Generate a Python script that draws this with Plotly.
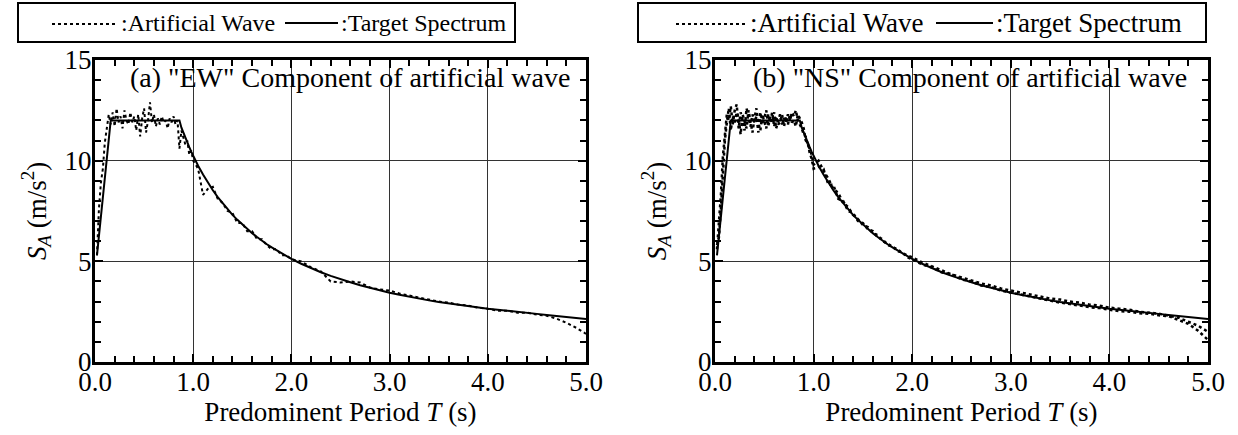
import plotly.graph_objects as go

W, H = 1238, 435

# ---------------- data ----------------
period = [0.02, 0.04, 0.06, 0.08, 0.10, 0.12, 0.14, 0.16, 0.18, 0.20,
          0.22, 0.24, 0.26, 0.28, 0.30, 0.32, 0.34, 0.36, 0.38, 0.40,
          0.42, 0.44, 0.46, 0.48, 0.50, 0.52, 0.54, 0.56, 0.58, 0.60,
          0.62, 0.64, 0.66, 0.68, 0.70, 0.72, 0.74, 0.76, 0.78, 0.80,
          0.82, 0.84, 0.86, 0.88, 0.90, 0.92, 0.94, 0.96, 0.98, 1.00,
          1.05, 1.10, 1.15, 1.20, 1.25, 1.30, 1.35, 1.40, 1.45, 1.50,
          1.55, 1.60, 1.65, 1.70, 1.75, 1.80, 1.85, 1.90, 1.95, 2.00,
          2.1, 2.2, 2.3, 2.4, 2.5, 2.6, 2.7, 2.8, 2.9, 3.0,
          3.1, 3.2, 3.3, 3.4, 3.5, 3.6, 3.7, 3.8, 3.9, 4.0,
          4.1, 4.2, 4.3, 4.4, 4.5, 4.6, 4.7, 4.8, 4.9, 5.0]

target = [5.3, 6.3, 7.2, 8.2, 9.1, 10.1, 11.0, 12.0, 12.0, 12.0,
          12.0, 12.0, 12.0, 12.0, 12.0, 12.0, 12.0, 12.0, 12.0, 12.0,
          12.0, 12.0, 12.0, 12.0, 12.0, 12.0, 12.0, 12.0, 12.0, 12.0,
          12.0, 12.0, 12.0, 12.0, 12.0, 12.0, 12.0, 12.0, 12.0, 12.0,
          12.0, 12.0, 12.0, 11.64, 11.38, 11.13, 10.89, 10.67, 10.45, 10.24,
          9.75, 9.31, 8.90, 8.53, 8.19, 7.88, 7.59, 7.31, 7.06, 6.83,
          6.61, 6.40, 6.21, 6.02, 5.85, 5.69, 5.54, 5.39, 5.25, 5.12,
          4.88, 4.66, 4.46, 4.28, 4.11, 3.96, 3.81, 3.68, 3.56, 3.44,
          3.34, 3.24, 3.15, 3.06, 2.98, 2.91, 2.84, 2.77, 2.71, 2.65,
          2.60, 2.54, 2.49, 2.44, 2.39, 2.34, 2.29, 2.24, 2.19, 2.14]

ew_wave = [5.3, 7.6, 8.9, 9.6, 10.9, 11.6, 12.3, 11.8, 12.4, 11.7,
           12.6, 11.9, 12.2, 11.6, 12.5, 12.0, 11.8, 12.4, 11.9, 12.2,
           11.5, 12.3, 11.2, 12.1, 12.6, 11.4, 12.0, 12.9, 11.9, 12.3,
           11.7, 12.1, 11.8, 12.2, 11.9, 12.0, 11.6, 12.1, 11.9, 12.2,
           11.8, 12.0, 10.6, 11.5, 11.1, 10.8, 11.0, 10.3, 10.5, 10.0,
           9.6, 8.3, 8.6, 8.7, 8.1, 7.9, 7.5, 7.4, 6.9, 6.9,
           6.5, 6.5, 6.1, 6.1, 5.8, 5.6, 5.6, 5.3, 5.3, 5.1,
           5.0, 4.7, 4.5, 4.0, 3.95, 4.0, 3.95, 3.7, 3.6, 3.55,
           3.4, 3.3, 3.2, 3.1, 3.0, 2.95, 2.85, 2.8, 2.7, 2.65,
           2.55, 2.55, 2.45, 2.45, 2.35, 2.3, 2.15, 1.95, 1.7, 1.4]

ns_wave_1 = [5.6, 6.8, 8.3, 10.2, 11.4, 12.3, 12.0, 12.7, 11.8, 12.5,
             12.8, 11.6, 12.4, 12.0, 11.5, 12.6, 12.1, 11.7, 12.3, 11.9,
             12.2, 11.4, 12.4, 11.8, 12.1, 12.5, 11.7, 12.2, 11.9, 12.4,
             11.6, 12.0, 12.3, 11.8, 12.1, 11.9, 12.3, 12.0, 12.4, 12.2,
             12.5, 12.0, 11.8, 11.6, 11.3, 11.2, 10.8, 10.6, 10.3, 9.8,
             10.0, 9.5, 9.1, 8.6, 8.4, 7.9, 7.7, 7.3, 7.1, 6.8,
             6.7, 6.4, 6.3, 6.0, 5.9, 5.7, 5.6, 5.4, 5.3, 5.2,
             4.95, 4.75, 4.55, 4.35, 4.2, 4.05, 3.9, 3.8, 3.65, 3.55,
             3.45, 3.35, 3.25, 3.15, 3.1, 3.0, 2.95, 2.85, 2.8, 2.7,
             2.65, 2.6, 2.5, 2.45, 2.4, 2.3, 2.2, 2.0, 1.8, 1.5]

ns_wave_2 = [5.8, 6.2, 7.6, 9.5, 11.0, 11.9, 12.6, 11.5, 12.2, 11.9,
             12.4, 12.1, 11.3, 12.3, 12.0, 11.6, 12.5, 12.0, 11.4, 12.1,
             12.6, 11.8, 11.5, 12.3, 11.9, 11.6, 12.3, 11.9, 12.4, 11.7,
             12.2, 11.8, 11.9, 12.3, 11.7, 12.2, 11.8, 12.3, 11.9, 12.0,
             11.7, 12.3, 12.1, 11.9, 11.6, 11.0, 10.9, 10.4, 10.1, 9.6,
             9.7, 9.6, 8.8, 8.8, 8.1, 8.0, 7.5, 7.4, 7.0, 6.9,
             6.6, 6.5, 6.2, 6.1, 5.8, 5.75, 5.5, 5.45, 5.2, 5.1,
             4.85, 4.7, 4.45, 4.35, 4.1, 4.0, 3.8, 3.72, 3.55, 3.45,
             3.35, 3.22, 3.12, 3.05, 2.95, 2.88, 2.8, 2.72, 2.68, 2.6,
             2.52, 2.5, 2.42, 2.4, 2.32, 2.28, 2.1, 1.9, 1.55, 1.1]

x_ticks = [0, 1, 2, 3, 4, 5]
x_tick_text = ["0.0", "1.0", "2.0", "3.0", "4.0", "5.0"]
y_ticks = [0, 5, 10, 15]
y_tick_text = ["0", "5", "10", "15"]

panel_titles = ['(a) "EW" Component of artificial wave',
                '(b) "NS" Component of artificial wave']
legend_texts = [":Artificial Wave", ":Target Spectrum"]

# ---------------- style ----------------
FONT = "Liberation Serif"
FS = 27


def px(x):
    """pixel x -> paper fraction"""
    return x / W


def py(y):
    """pixel y (from top) -> paper fraction"""
    return 1 - y / H


fig = go.Figure()

fig.add_trace(go.Scatter(x=period, y=ew_wave, mode="lines", xaxis="x", yaxis="y",
                         line=dict(color="black", width=2, dash="dot"), showlegend=False))
fig.add_trace(go.Scatter(x=period, y=target, mode="lines", xaxis="x", yaxis="y",
                         line=dict(color="black", width=2), showlegend=False))

fig.add_trace(go.Scatter(x=period, y=ns_wave_1, mode="lines", xaxis="x2", yaxis="y2",
                         line=dict(color="black", width=2.5, dash="3px,3px"), showlegend=False))
fig.add_trace(go.Scatter(x=period, y=ns_wave_2, mode="lines", xaxis="x2", yaxis="y2",
                         line=dict(color="black", width=2.5, dash="dot"), showlegend=False))
fig.add_trace(go.Scatter(x=period, y=target, mode="lines", xaxis="x2", yaxis="y2",
                         line=dict(color="black", width=2), showlegend=False))


def xaxis_cfg(domain, anchor):
    return dict(
        domain=domain, anchor=anchor, range=[0, 5],
        tickmode="array", tickvals=x_ticks, ticktext=x_tick_text,
        ticks="inside", ticklen=8, tickwidth=2, tickcolor="black",
        ticklabelstandoff=-6,
        showline=True, linewidth=3, linecolor="black", mirror="allticks",
        showgrid=True, gridcolor="#333333", gridwidth=1, zeroline=False,
        minor=dict(tickvals=[0.2 * i for i in range(26)], ticks="inside", ticklen=6,
                   tickwidth=2, tickcolor="black", showgrid=False),
        tickfont=dict(family=FONT, size=FS, color="black"),
        title=dict(text="Predominent Period <i>T</i> (s)",
                   font=dict(family=FONT, size=FS, color="black"), standoff=3),
        automargin=False,
    )


def yaxis_cfg(domain, anchor):
    return dict(
        domain=domain, anchor=anchor, range=[0, 15],
        tickmode="array", tickvals=y_ticks, ticktext=y_tick_text,
        ticks="inside", ticklen=8, tickwidth=2, tickcolor="black",
        ticklabelstandoff=-5,
        showline=True, linewidth=3, linecolor="black", mirror="allticks",
        showgrid=True, gridcolor="#333333", gridwidth=1, zeroline=False,
        minor=dict(tickvals=list(range(16)), ticks="inside", ticklen=6,
                   tickwidth=2, tickcolor="black", showgrid=False),
        tickfont=dict(family=FONT, size=FS, color="black"),
        title=dict(text="<i>S<sub>A</sub></i> (m/s<sup>2</sup>)",
                   font=dict(family=FONT, size=FS, color="black"), standoff=11),
        automargin=False,
    )


ydom = [py(362), py(60)]
fig.update_layout(
    width=W, height=H,
    margin=dict(l=0, r=0, t=0, b=0),
    paper_bgcolor="white", plot_bgcolor="white",
    showlegend=False, hovermode=False,
    font=dict(family=FONT, size=FS, color="black"),
    xaxis=xaxis_cfg([px(95), px(586)], "y"),
    yaxis=yaxis_cfg(ydom, "x"),
    xaxis2=xaxis_cfg([px(715), px(1208)], "y2"),
    yaxis2=yaxis_cfg(ydom, "x2"),
)

# panel titles
for cx, t in zip([350, 970], panel_titles):
    fig.add_annotation(x=px(cx), y=py(77), xref="paper", yref="paper",
                       text=t, showarrow=False, xanchor="center", yanchor="middle",
                       font=dict(family=FONT, size=28, color="black"))

# legends (boxes drawn in paper space)
legend_specs = [
    dict(box=(18, 515), dot=(52, 118), t1=119, solid=(285, 338), t2=339, fs=24),
    dict(box=(638, 1206), dot=(676, 746), t1=748, solid=(936, 993), t2=994, fs=27),
]
for spec in legend_specs:
    x0, x1 = spec["box"]
    fig.add_shape(type="rect", xref="paper", yref="paper",
                  x0=px(x0), x1=px(x1), y0=py(42), y1=py(3),
                  line=dict(color="black", width=2), fillcolor="white", layer="above")
    fig.add_shape(type="line", xref="paper", yref="paper",
                  x0=px(spec["dot"][0]), x1=px(spec["dot"][1]), y0=py(24), y1=py(24),
                  line=dict(color="black", width=2, dash="dot"), layer="above")
    fig.add_shape(type="line", xref="paper", yref="paper",
                  x0=px(spec["solid"][0]), x1=px(spec["solid"][1]), y0=py(23), y1=py(23),
                  line=dict(color="black", width=2), layer="above")
    fig.add_annotation(x=px(spec["t1"]), y=py(23), xref="paper", yref="paper",
                       text=legend_texts[0], showarrow=False, xanchor="left", yanchor="middle",
                       font=dict(family=FONT, size=spec["fs"], color="black"))
    fig.add_annotation(x=px(spec["t2"]), y=py(23), xref="paper", yref="paper",
                       text=legend_texts[1], showarrow=False, xanchor="left", yanchor="middle",
                       font=dict(family=FONT, size=spec["fs"], color="black"))

# the page body has a default 8px margin; remove it so the figure fills the window
fig.write_html("out.html",
               config={"displayModeBar": False},
               post_script="document.body.style.margin='0';document.body.style.overflow='hidden';")
